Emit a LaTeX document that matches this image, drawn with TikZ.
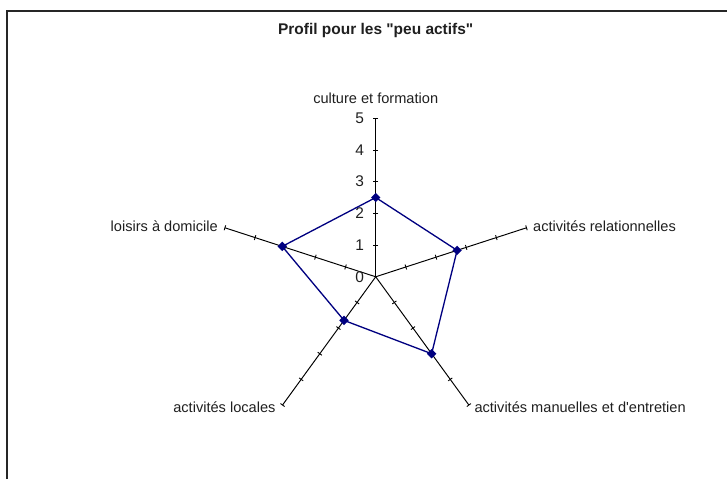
\documentclass[tikz,border=0pt]{standalone}
\usepackage{fontspec}
\setmainfont{Liberation Sans}[Ligatures=TeXOff]
\usetikzlibrary{calc, shapes, positioning}
\definecolor{serie}{RGB}{0,0,128}

\begin{document}
\begin{tikzpicture}[x=0.634cm, y=0.634cm,
        ax/.style={draw=black, line width=0.55pt},
        tk/.style={draw=black, line width=0.5pt},
        ligne/.style={draw=serie, line width=0.75pt},
        lbl/.style={inner sep=1pt, font=\fontsize{8.3}{10}\selectfont, text=black!88},
        num/.style={lbl, anchor=east, font=\fontsize{8.8}{10}\selectfont},
        ttl/.style={lbl, font=\bfseries\fontsize{8.8}{10}\selectfont},
        pt/.style={diamond, fill=serie, inner sep=0pt, minimum width=5.5pt, minimum height=5.5pt}]
            \useasboundingbox (-11.85,-6.38) rectangle (11.08,8.73);
            \draw[line width=1.1pt, black!85] (-11.63,-6.38) -- (-11.63,8.38) -- (11.08,8.38);

            \node[ttl] (titre) at (0,7.78) {Profil pour les "peu actifs"};

            \draw (0,0) coordinate (o);
            \draw (90:   5) coordinate (e1);
            \draw (18:   5) coordinate (e2);
            \draw (-54:  5) coordinate (e3);
            \draw (-126: 5) coordinate (e4);
            \draw (162:  5) coordinate (e5);

            \draw[ax] (o) -- (e1);
            \draw[ax] (o) -- (e2);
            \draw[ax] (o) -- (e3);
            \draw[ax] (o) -- (e4);
            \draw[ax] (o) -- (e5);

            \begin{scope}[rotate=90]
                \draw[tk] (1,-.08) -- (1,.08) (2,-.08) -- (2,.08) (3,-.08) -- (3,.08) (4,-.08) -- (4,.08) (5,-.08) -- (5,.08);
            \end{scope}
            \begin{scope}[rotate=18]
                \draw[tk] (1,-.08) -- (1,.08) (2,-.08) -- (2,.08) (3,-.08) -- (3,.08) (4,-.08) -- (4,.08) (5,-.08) -- (5,.08);
            \end{scope}
            \begin{scope}[rotate=-54]
                \draw[tk] (1,-.08) -- (1,.08) (2,-.08) -- (2,.08) (3,-.08) -- (3,.08) (4,-.08) -- (4,.08) (5,-.08) -- (5,.08);
            \end{scope}
            \begin{scope}[rotate=-126]
                \draw[tk] (1,-.08) -- (1,.08) (2,-.08) -- (2,.08) (3,-.08) -- (3,.08) (4,-.08) -- (4,.08) (5,-.08) -- (5,.08);
            \end{scope}
            \begin{scope}[rotate=162]
                \draw[tk] (1,-.08) -- (1,.08) (2,-.08) -- (2,.08) (3,-.08) -- (3,.08) (4,-.08) -- (4,.08) (5,-.08) -- (5,.08);
            \end{scope}

            \node[num] (n0) at (-0.3,0) {0};
            \node[num] (n1) at (-0.3,1) {1};
            \node[num] (n2) at (-0.3,2) {2};
            \node[num] (n3) at (-0.3,3) {3};
            \node[num] (n4) at (-0.3,4) {4};
            \node[num] (n5) at (-0.3,5) {5};

            \node[lbl, above=7pt of e1] (t1) {culture et formation};
            \node[lbl, right=2.6pt of e2, yshift=1pt] (t2) {activités relationnelles};
            \node[lbl, right=2pt of e3, yshift=-1.4pt] (t3) {activités manuelles et d'entretien};
            \node[lbl, left=2.8pt of e4, yshift=-1.4pt] (t4) {activités locales};
            \node[lbl, left=2.9pt of e5, yshift=1pt] (t5) {loisirs à domicile};

            \draw (90:   2.5) coordinate (d1);
            \draw (18:   2.7) coordinate (d2);
            \draw (-54:  3.0) coordinate (d3);
            \draw (-126: 1.7) coordinate (d4);
            \draw (162:  3.1) coordinate (d5);

            \draw[ligne] (d1) -- (d2) -- (d3) -- (d4) -- (d5) -- cycle;

            \node[pt] (m1) at (d1) {};
            \node[pt] (m2) at (d2) {};
            \node[pt] (m3) at (d3) {};
            \node[pt] (m4) at (d4) {};
            \node[pt] (m5) at (d5) {};
        \end{tikzpicture}
\end{document}
